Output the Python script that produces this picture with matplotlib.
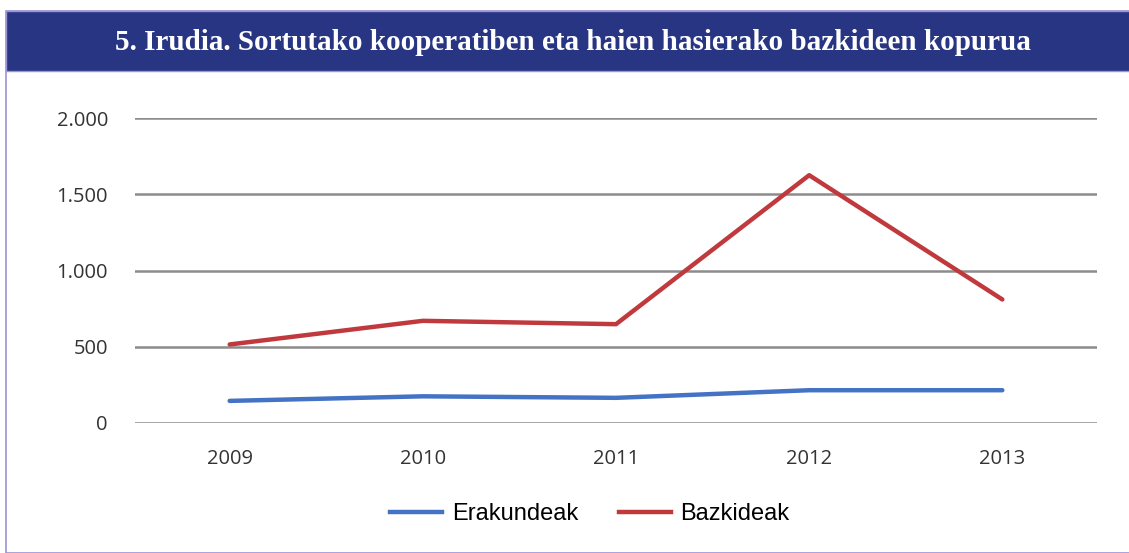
import matplotlib.pyplot as plt
from matplotlib.patches import Rectangle
from matplotlib.lines import Line2D

# data
years = ["2009", "2010", "2011", "2012", "2013"]
erakundeak = [145, 175, 165, 215, 215]
bazkideak = [515, 670, 648, 1625, 810]
yticks = [0, 500, 1000, 1500, 2000]
ytick_labels = ["0", "500", "1.000", "1.500", "2.000"]

W, H = 1129, 553
fig = plt.figure(figsize=(W / 100, H / 100), dpi=100)

# title bar and border
fig.patches.append(Rectangle((6 / W, 0), 1, 1 - 11 / H, transform=fig.transFigure,
                             facecolor="white", edgecolor="#9c94d6", linewidth=1.2, zorder=-2))
fig.patches.append(Rectangle((6 / W, 1 - 71 / H), 1, 60 / H, transform=fig.transFigure,
                             facecolor="#283583", edgecolor="#9c94d6", linewidth=1.0, zorder=-1))
fig.text(573 / W, 1 - 43 / H, "5. Irudia. Sortutako kooperatiben eta haien hasierako bazkideen kopurua",
         color="white", fontsize=21, fontweight="bold", family="Liberation Serif",
         ha="center", va="center")

ax = fig.add_axes([135 / W, 130 / H, (1097 - 135) / W, (423 - 118) / H])
ax.patch.set_alpha(0)
x = range(len(years))
ax.plot(x, erakundeak, color="#4472c4", linewidth=3.2, solid_capstyle="round", clip_on=False)
ax.plot(x, bazkideak, color="#c0393d", linewidth=3.2, solid_capstyle="round", clip_on=False)

ax.set_xlim(-0.49, 4.49)
ax.set_ylim(0, 2000)
ax.set_yticks(yticks)
ax.set_yticklabels(ytick_labels)
ax.set_xticks(list(x))
ax.set_xticklabels(years)
ax.grid(axis="y", color="#8c8c8c", linewidth=1.8)
ax.set_axisbelow(True)
for s in ax.spines.values():
    s.set_visible(False)
ax.tick_params(length=0, labelsize=14.5, labelcolor="#333333")
ax.tick_params(axis="y", pad=19.5)
ax.tick_params(axis="x", pad=19)
for lab in ax.get_xticklabels() + ax.get_yticklabels():
    lab.set_family("Open Sans")

handles = [Line2D([], [], color="#4472c4", linewidth=3.2),
           Line2D([], [], color="#c0393d", linewidth=3.2)]
fig.legend(handles, ["Erakundeak", "Bazkideak"], loc="center", bbox_to_anchor=(590 / W, 1 - 514 / H),
           ncol=2, frameon=False, handlelength=2.2, columnspacing=1.7, handletextpad=0.42,
           prop={"family": "Liberation Sans", "size": 17})

fig.savefig("out.png", dpi=100)
